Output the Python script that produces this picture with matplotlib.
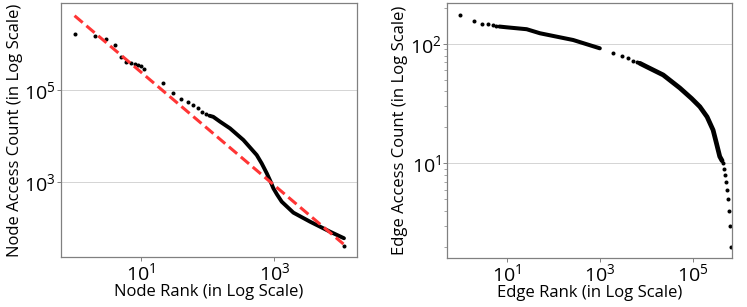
import numpy as np
import matplotlib
matplotlib.use('Agg')
import matplotlib.pyplot as plt
from matplotlib.ticker import LogLocator, NullFormatter, NullLocator

plt.rcParams['font.family'] = ['Open Sans', 'DejaVu Sans']
plt.rcParams['mathtext.default'] = 'regular'

# node access counts
node_rank_sparse = [1, 2, 3, 4, 5, 6, 7, 8, 9, 10, 11, 21, 30, 40, 51, 61, 71, 83, 93]
node_count_sparse = [1700000, 1570000, 1320000, 990000, 537000, 423000, 389000, 372000,
                     358000, 339000, 295000, 142000, 87300, 64600, 55500, 47700, 40400,
                     33000, 30300]
node_rank_dense = [106, 121, 153, 216, 343, 543, 646, 769, 861, 966, 1096, 1290, 1930,
                   3440, 6850, 11100]
node_count_dense = [27800, 26300, 20600, 14700, 8170, 3840, 2510, 1530, 1070, 718, 525,
                    365, 210, 133, 80.5, 57.8]
node_rank_last = [11100]
node_count_last = [39.2]

# power-law fit shown as the red dashed line
fit_coef = 4.3e6
fit_exp = -1.238
fit_rank = [1, 10900]

# edge access counts
edge_rank_sparse = [1, 2, 3, 4, 5, 6, 1930, 2930, 4050, 5190, 6310,
                    441000, 454000, 476000, 501000, 525000, 553000, 582000, 624000, 655000]
edge_count_sparse = [175, 157, 147, 146, 143.5, 142, 83.6, 79.3, 75.8, 72.4, 70.3,
                     10, 9, 8, 7, 6, 5, 4, 3, 2]
edge_rank_dense1 = [7, 10, 27, 52, 268, 1000]
edge_count_dense1 = [140, 138, 133, 123, 108, 92]
edge_rank_dense2 = [7210, 10000, 22900, 52000, 93300, 140000, 200000, 269000, 318000,
                    374000, 420000]
edge_count_dense2 = [68.9, 64.6, 55, 42.8, 34.9, 29.8, 24.5, 19.0, 14.7, 11.4, 10.5]

fig = plt.figure(figsize=(7.47, 3.07), dpi=100)
ax1 = fig.add_axes([0.0817, 0.163, 0.3963, 0.826])
ax2 = fig.add_axes([0.598, 0.161, 0.382, 0.828])

dot = dict(color='black', marker='o', linestyle='none', markersize=2.9, markeredgewidth=0)

# Node panel
ax1.plot(node_rank_sparse, node_count_sparse, **dot)
ax1.plot(node_rank_dense, node_count_dense, color='black', linewidth=2.8,
         solid_capstyle='round', solid_joinstyle='round')
ax1.plot(node_rank_last, node_count_last, **dot)
fit_vals = [fit_coef * r ** fit_exp for r in fit_rank]
ax1.plot(fit_rank, fit_vals, color='#ff3535', linewidth=2.2, linestyle=(0, (3.5, 1.6)), zorder=5)
ax1.set_xscale('log')
ax1.set_yscale('log')
ax1.set_xlim(0.627, 17450)
ax1.set_ylim(22.5, 8.0e6)
ax1.set_xticks([10, 1000])
ax1.set_yticks([1000, 100000])
ax1.xaxis.set_minor_locator(NullLocator())
ax1.yaxis.set_minor_locator(NullLocator())
ax1.set_xlabel('Node Rank (in Log Scale)', fontsize=12, labelpad=0)
ax1.set_ylabel('Node Access Count (in Log Scale)', fontsize=12, labelpad=1)

# Edge panel
ax2.plot(edge_rank_sparse, edge_count_sparse, **dot)
ax2.plot(edge_rank_dense1, edge_count_dense1, color='black', linewidth=2.9,
         solid_capstyle='round', solid_joinstyle='round')
ax2.plot(edge_rank_dense2, edge_count_dense2, color='black', linewidth=3.4,
         solid_capstyle='round', solid_joinstyle='round')
ax2.set_xscale('log')
ax2.set_yscale('log')
ax2.set_xlim(0.52, 687000)
ax2.set_ylim(1.62, 219)
ax2.set_xticks([10, 1000, 100000])
ax2.set_yticks([10, 100])
ax2.xaxis.set_minor_locator(NullLocator())
ax2.yaxis.set_minor_locator(LogLocator(base=10, subs=np.arange(2, 10), numticks=20))
ax2.yaxis.set_minor_formatter(NullFormatter())
ax2.set_xlabel('Edge Rank (in Log Scale)', fontsize=12, labelpad=0)
ax2.set_ylabel('Edge Access Count (in Log Scale)', fontsize=12, labelpad=1)

for ax in [ax1, ax2]:
    ax.grid(True, axis='y', which='major', color='#d4d4d4', linewidth=0.7)
    ax.set_axisbelow(True)
    for s in ax.spines.values():
        s.set_color('#808080')
        s.set_linewidth(0.9)
    ax.tick_params(axis='both', which='major', labelsize=14, length=3, width=0.7,
                   color='#808080', pad=1)
    ax.tick_params(axis='both', which='minor', length=2, width=0.5, color='#808080')

fig.savefig('out.png', dpi=100)
